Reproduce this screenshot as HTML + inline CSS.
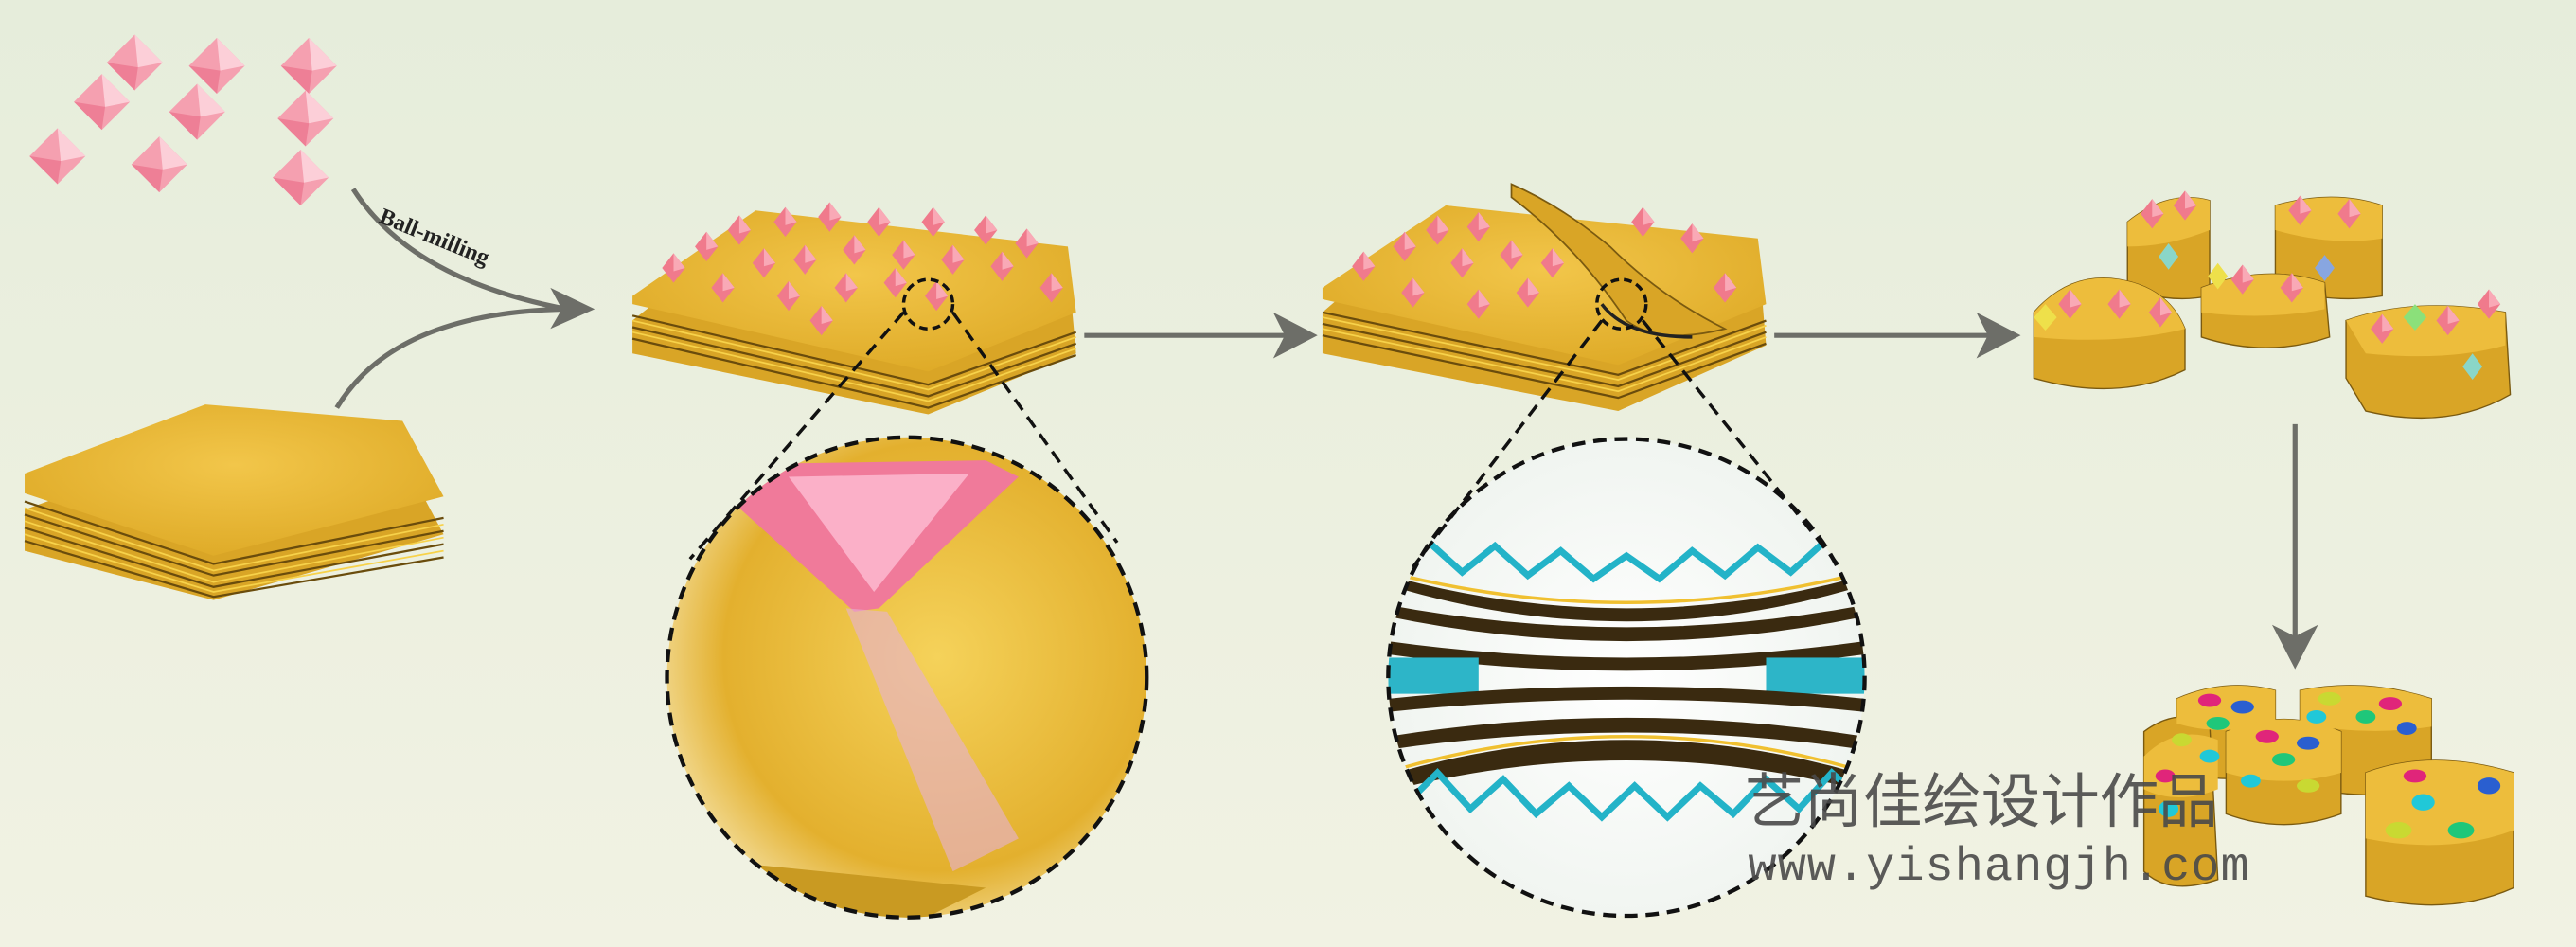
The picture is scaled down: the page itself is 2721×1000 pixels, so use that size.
<!DOCTYPE html>
<html><head><meta charset="utf-8"><style>html,body{margin:0;padding:0;width:2721px;height:1000px;overflow:hidden}svg{display:block}</style></head><body>
<svg width="2721" height="1000" viewBox="0 0 1568 576" preserveAspectRatio="none" xmlns="http://www.w3.org/2000/svg">
<defs>
<linearGradient id="bg" x1="0" y1="0" x2="0" y2="1"><stop offset="0" stop-color="#e6eddb"/><stop offset="1" stop-color="#f1f2e3"/></linearGradient>
<radialGradient id="gold" cx="0.5" cy="0.4" r="0.7"><stop offset="0" stop-color="#f2c64a"/><stop offset="1" stop-color="#dca723"/></radialGradient>
<radialGradient id="z1" cx="0.55" cy="0.45" r="0.6"><stop offset="0" stop-color="#f5d25a"/><stop offset="0.7" stop-color="#e3b02e"/><stop offset="1" stop-color="#f6e6b0"/></radialGradient>
<radialGradient id="z2" cx="0.5" cy="0.5" r="0.55"><stop offset="0" stop-color="#ffffff"/><stop offset="1" stop-color="#eef3ee"/></radialGradient>
<clipPath id="c1"><circle cx="552" cy="412" r="146"/></clipPath>
<clipPath id="c2"><circle cx="990" cy="412" r="145"/></clipPath>
<g id="oct"><polygon points="0,-9 7,0 0,9 -7,0" fill="#f07a8c"/><polygon points="0,-9 7,0 0,2" fill="#f9a9b6"/></g>
<g id="bigoct"><polygon points="0,-17 17,0 0,17 -17,0" fill="#f5a0b0"/><polygon points="0,-17 17,0 2,3" fill="#fccfd8"/><polygon points="-17,0 0,17 2,3" fill="#ee7f96"/></g>
</defs>
<rect width="1568" height="576" fill="url(#bg)"/>

<use href="#bigoct" x="35" y="95"/><use href="#bigoct" x="62" y="62"/><use href="#bigoct" x="82" y="38"/><use href="#bigoct" x="132" y="40"/><use href="#bigoct" x="120" y="68"/><use href="#bigoct" x="97" y="100"/><use href="#bigoct" x="188" y="40"/><use href="#bigoct" x="186" y="72"/><use href="#bigoct" x="183" y="108"/>

<path d="M215 115 Q250 170 345 188" fill="none" stroke="#6d6e68" stroke-width="3"/>
<path d="M205 248 Q240 190 345 188" fill="none" stroke="#6d6e68" stroke-width="3"/>
<polygon points="362,188 335,175 342,188 335,200" fill="#6d6e68"/>
<text x="230" y="135" font-family="Liberation Serif,serif" font-weight="bold" font-size="14" fill="#222" transform="rotate(22 230 135)">Ball-milling</text>

<g>
<polygon points="15,310 125,270 245,278 270,325 130,365 15,335" fill="#d9a526"/>
<g stroke="#6a4c0c" stroke-width="1.3" fill="none"><path d="M15,305 L130,343 L270,315"/><path d="M15,313 L130,350 L270,323"/><path d="M15,321 L130,357 L270,331"/><path d="M15,329 L130,363 L270,339"/></g>
<g stroke="#f7d24a" stroke-width="1" fill="none"><path d="M15,309 L130,347 L270,319"/><path d="M15,317 L130,354 L270,327"/><path d="M15,325 L130,360 L270,335"/></g>
<polygon points="15,288 125,246 245,256 270,302 130,338 15,300" fill="url(#gold)"/>
</g>

<polygon points="385,195 460,135 650,160 655,215 565,252 385,215" fill="#d9a526"/>
<g stroke="#6a4c0c" stroke-width="1.3" fill="none"><path d="M385,192 L565,234 L655,202"/><path d="M385,199 L565,241 L655,209"/><path d="M385,206 L565,248 L655,216"/></g>
<g stroke="#f7d24a" stroke-width="1" fill="none"><path d="M385,195 L565,237 L655,205"/><path d="M385,202 L565,244 L655,212"/></g>
<polygon points="385,180 460,128 650,150 655,190 565,226 385,185" fill="url(#gold)"/>
<g>
<use href="#oct" x="410" y="163"/><use href="#oct" x="430" y="150"/><use href="#oct" x="450" y="140"/><use href="#oct" x="478" y="135"/><use href="#oct" x="505" y="132"/><use href="#oct" x="535" y="135"/><use href="#oct" x="568" y="135"/><use href="#oct" x="600" y="140"/><use href="#oct" x="625" y="148"/><use href="#oct" x="440" y="175"/><use href="#oct" x="465" y="160"/><use href="#oct" x="490" y="158"/><use href="#oct" x="520" y="152"/><use href="#oct" x="550" y="155"/><use href="#oct" x="580" y="158"/><use href="#oct" x="610" y="162"/><use href="#oct" x="640" y="175"/><use href="#oct" x="480" y="180"/><use href="#oct" x="515" y="175"/><use href="#oct" x="545" y="172"/><use href="#oct" x="500" y="195"/><use href="#oct" x="570" y="180"/>
</g>

<line x1="660" y1="204" x2="785" y2="204" stroke="#6d6e68" stroke-width="3"/>
<polygon points="802,204 775,190 782,204 775,218" fill="#6d6e68"/>

<polygon points="805,190 880,125 1070,150 1075,210 985,250 805,215" fill="#d9a526"/>
<g stroke="#6a4c0c" stroke-width="1.3" fill="none"><path d="M805,190 L985,228 L1075,195"/><path d="M805,197 L985,235 L1075,202"/><path d="M805,204 L985,242 L1075,209"/></g>
<g stroke="#f7d24a" stroke-width="1" fill="none"><path d="M805,193 L985,231 L1075,198"/><path d="M805,200 L985,238 L1075,205"/></g>
<polygon points="805,175 880,125 1070,145 1075,185 985,222 805,182" fill="url(#gold)"/>
<path d="M920,120 Q960 150 990 195 Q1010 210 1050 200 Q1010 180 980 150 Q950 125 920 112Z" fill="#d9a526" stroke="#7a5a10" stroke-width="1"/>
<path d="M975,185 Q990 205 1030 205" fill="none" stroke="#222" stroke-width="2"/>
<use href="#oct" x="830" y="162"/><use href="#oct" x="855" y="150"/><use href="#oct" x="875" y="140"/><use href="#oct" x="900" y="138"/><use href="#oct" x="860" y="178"/><use href="#oct" x="890" y="160"/><use href="#oct" x="920" y="155"/><use href="#oct" x="930" y="178"/><use href="#oct" x="900" y="185"/><use href="#oct" x="1000" y="135"/><use href="#oct" x="1030" y="145"/><use href="#oct" x="1050" y="175"/><use href="#oct" x="945" y="160"/>

<line x1="1080" y1="204" x2="1212" y2="204" stroke="#6d6e68" stroke-width="3"/>
<polygon points="1230,204 1203,190 1210,204 1203,218" fill="#6d6e68"/>

<g fill="#d9a526" stroke="#7a5a10" stroke-width="0.8">
<path d="M1295,135 Q1320,115 1345,122 L1345,180 Q1320,185 1295,175Z"/>
<path d="M1385,125 Q1420,115 1450,125 L1450,180 Q1420,185 1385,175Z"/>
<path d="M1238,190 Q1260,165 1290,170 Q1320,175 1330,200 L1330,225 Q1290,245 1238,230Z"/>
<path d="M1340,175 Q1380,160 1415,172 L1418,205 Q1380,218 1340,205Z"/>
<path d="M1428,195 Q1470,180 1525,190 L1528,240 Q1490,262 1440,250 L1428,230Z"/>
</g>
<g fill="#edbd3c">
<path d="M1295,135 Q1320,115 1345,122 L1345,140 Q1320,150 1295,150Z"/>
<path d="M1385,125 Q1420,115 1450,125 L1450,145 Q1420,150 1385,140Z"/>
<path d="M1238,190 Q1260,165 1290,170 Q1320,175 1330,200 Q1290,210 1238,205Z"/>
<path d="M1340,175 Q1380,160 1415,172 L1415,188 Q1380,195 1340,190Z"/>
<path d="M1428,195 Q1470,180 1525,190 L1525,210 Q1490,220 1440,215Z"/>
</g>
<g>
<use href="#oct" x="1310" y="130"/><use href="#oct" x="1330" y="125"/><use href="#oct" x="1400" y="128"/><use href="#oct" x="1430" y="130"/><use href="#oct" x="1260" y="185"/><use href="#oct" x="1290" y="185"/><use href="#oct" x="1315" y="190"/><use href="#oct" x="1365" y="170"/><use href="#oct" x="1395" y="175"/><use href="#oct" x="1450" y="200"/><use href="#oct" x="1490" y="195"/><use href="#oct" x="1515" y="185"/>
<polygon points="1350,160 1356,168 1350,176 1344,168" fill="#eee04a"/><polygon points="1245,185 1252,193 1245,201 1238,193" fill="#eee04a"/><polygon points="1470,185 1477,193 1470,201 1463,193" fill="#8be07a"/><polygon points="1320,148 1326,156 1320,164 1314,156" fill="#8ad6c8"/><polygon points="1505,215 1511,223 1505,231 1499,223" fill="#8ad6c8"/><polygon points="1415,155 1421,163 1415,171 1409,163" fill="#88a6e0"/>
</g>

<line x1="1397" y1="258" x2="1397" y2="390" stroke="#6d6e68" stroke-width="3"/>
<polygon points="1397,407 1383,380 1397,387 1411,380" fill="#6d6e68"/>

<g fill="#d9a526" stroke="#7a5a10" stroke-width="0.8">
<path d="M1325,425 Q1355,412 1385,420 L1385,470 Q1350,478 1325,468Z"/>
<path d="M1400,420 Q1440,412 1480,425 L1480,480 Q1440,488 1400,478Z"/>
<path d="M1305,445 Q1325,430 1345,440 L1350,535 Q1320,545 1305,530Z"/>
<path d="M1355,445 Q1390,430 1425,445 L1425,495 Q1390,508 1355,495Z"/>
<path d="M1440,470 Q1480,455 1530,470 L1530,540 Q1490,558 1440,545Z"/>
</g>
<g fill="#edbd3c">
<path d="M1325,425 Q1355,412 1385,420 L1385,440 Q1350,448 1325,440Z"/>
<path d="M1400,420 Q1440,412 1480,425 L1480,442 Q1440,448 1400,440Z"/>
<path d="M1305,460 Q1325,440 1350,450 L1350,480 Q1325,490 1305,480Z"/>
<path d="M1355,445 Q1390,430 1425,445 L1425,470 Q1390,480 1355,470Z"/>
<path d="M1440,470 Q1480,455 1530,470 L1530,505 Q1490,520 1440,510Z"/>
</g>
<g>
<ellipse cx="1345" cy="426" rx="7" ry="4" fill="#e0257a"/><ellipse cx="1365" cy="430" rx="7" ry="4" fill="#2a5fd0"/><ellipse cx="1350" cy="440" rx="7" ry="4" fill="#1fc77a"/><ellipse cx="1328" cy="450" rx="6" ry="4" fill="#c9d932"/><ellipse cx="1345" cy="460" rx="6" ry="4" fill="#20c8d8"/>
<ellipse cx="1418" cy="425" rx="7" ry="4" fill="#c9d932"/><ellipse cx="1455" cy="428" rx="7" ry="4" fill="#e0257a"/><ellipse cx="1410" cy="436" rx="6" ry="4" fill="#20c8d8"/><ellipse cx="1440" cy="436" rx="6" ry="4" fill="#1fc77a"/><ellipse cx="1465" cy="443" rx="6" ry="4" fill="#2a5fd0"/>
<ellipse cx="1380" cy="448" rx="7" ry="4" fill="#e0257a"/><ellipse cx="1405" cy="452" rx="7" ry="4" fill="#2a5fd0"/><ellipse cx="1390" cy="462" rx="7" ry="4" fill="#1fc77a"/><ellipse cx="1370" cy="475" rx="6" ry="4" fill="#20c8d8"/><ellipse cx="1405" cy="478" rx="7" ry="4" fill="#c9d932"/>
<ellipse cx="1318" cy="472" rx="6" ry="4" fill="#e0257a"/><ellipse cx="1320" cy="492" rx="6" ry="5" fill="#20c8d8"/>
<ellipse cx="1470" cy="472" rx="7" ry="4" fill="#e0257a"/><ellipse cx="1515" cy="478" rx="7" ry="5" fill="#2a5fd0"/><ellipse cx="1475" cy="488" rx="7" ry="5" fill="#20c8d8"/><ellipse cx="1460" cy="505" rx="8" ry="5" fill="#c9d932"/><ellipse cx="1498" cy="505" rx="8" ry="5" fill="#1fc77a"/>
</g>

<g clip-path="url(#c1)">
<rect x="400" y="260" width="310" height="310" fill="url(#z1)"/>
<polygon points="440,300 470,282 600,280 620,290 535,370 520,372" fill="#f07a9a"/>
<polygon points="480,290 590,288 532,360" fill="#fbb0c8"/>
<polygon points="515,370 540,372 620,510 580,530" fill="#e6b1d6" opacity="0.6"/>
<polygon points="440,300 400,330 400,262 470,262" fill="#ffffff" opacity="0.8"/>
<path d="M400,520 L600,540 L560,560 L400,560Z" fill="#c99a22"/>
</g>
<circle cx="552" cy="412" r="146" fill="none" stroke="#111" stroke-width="2.5" stroke-dasharray="8,5"/>
<circle cx="565" cy="185" r="15" fill="none" stroke="#111" stroke-width="2" stroke-dasharray="5,3"/>
<line x1="550" y1="190" x2="420" y2="340" stroke="#111" stroke-width="2" stroke-dasharray="8,5"/>
<line x1="580" y1="190" x2="680" y2="330" stroke="#111" stroke-width="2" stroke-dasharray="8,5"/>

<g clip-path="url(#c2)">
<rect x="840" y="260" width="300" height="310" fill="url(#z2)"/>
<path d="M845,340 L870,330 L890,348 L910,332 L930,350 L950,335 L970,352 L990,338 L1010,352 L1030,335 L1050,350 L1070,333 L1090,348 L1110,330 L1135,340" fill="none" stroke="#23b3c8" stroke-width="4"/>
<path d="M845,350 Q990 390 1135 350 L1135,356 Q990 400 845,356Z" fill="#3a2a10"/>
<path d="M845,348 Q990 385 1135 348" fill="none" stroke="#f0c030" stroke-width="2"/>
<path d="M845,368 Q990 395 1135 368 L1135,375 Q990 405 845,375Z" fill="#3a2a10"/>
<path d="M845,390 Q990 410 1135 390 L1135,398 Q990 418 845,398Z" fill="#3a2a10"/>
<rect x="845" y="400" width="55" height="22" fill="#2db5c8"/><rect x="1075" y="400" width="60" height="22" fill="#2db5c8"/>
<path d="M845,425 Q990 410 1135 425 L1135,433 Q990 418 845,433Z" fill="#3a2a10"/>
<path d="M845,448 Q990 425 1135 448 L1135,456 Q990 435 845,456Z" fill="#3a2a10"/>
<path d="M850,470 Q990 430 1130 470 L1130,480 Q990 445 850,480Z" fill="#3a2a10"/>
<path d="M850,468 Q990 428 1130 468" fill="none" stroke="#f0c030" stroke-width="2"/>
<path d="M855,490 L875,470 L895,492 L915,474 L935,495 L955,478 L975,497 L995,478 L1015,497 L1035,478 L1055,495 L1075,474 L1095,492 L1115,470 L1135,488" fill="none" stroke="#23b3c8" stroke-width="4"/>
</g>
<circle cx="990" cy="412" r="145" fill="none" stroke="#111" stroke-width="2.5" stroke-dasharray="8,5"/>
<circle cx="987" cy="185" r="15" fill="none" stroke="#111" stroke-width="2" stroke-dasharray="5,3"/>
<line x1="975" y1="195" x2="860" y2="345" stroke="#111" stroke-width="2" stroke-dasharray="8,5"/>
<line x1="1000" y1="195" x2="1120" y2="345" stroke="#111" stroke-width="2" stroke-dasharray="8,5"/>

<text x="1062" y="500" font-family="'Liberation Sans','Noto Sans CJK SC',sans-serif" font-size="36" fill="#4a4a4a" opacity="0.9">艺尚佳绘设计作品</text>
<text x="1064" y="535" font-family="'Liberation Mono',monospace" font-size="29" fill="#4a4a4a" opacity="0.9" textLength="305">www.yishangjh.com</text>
</svg>
</body></html>
